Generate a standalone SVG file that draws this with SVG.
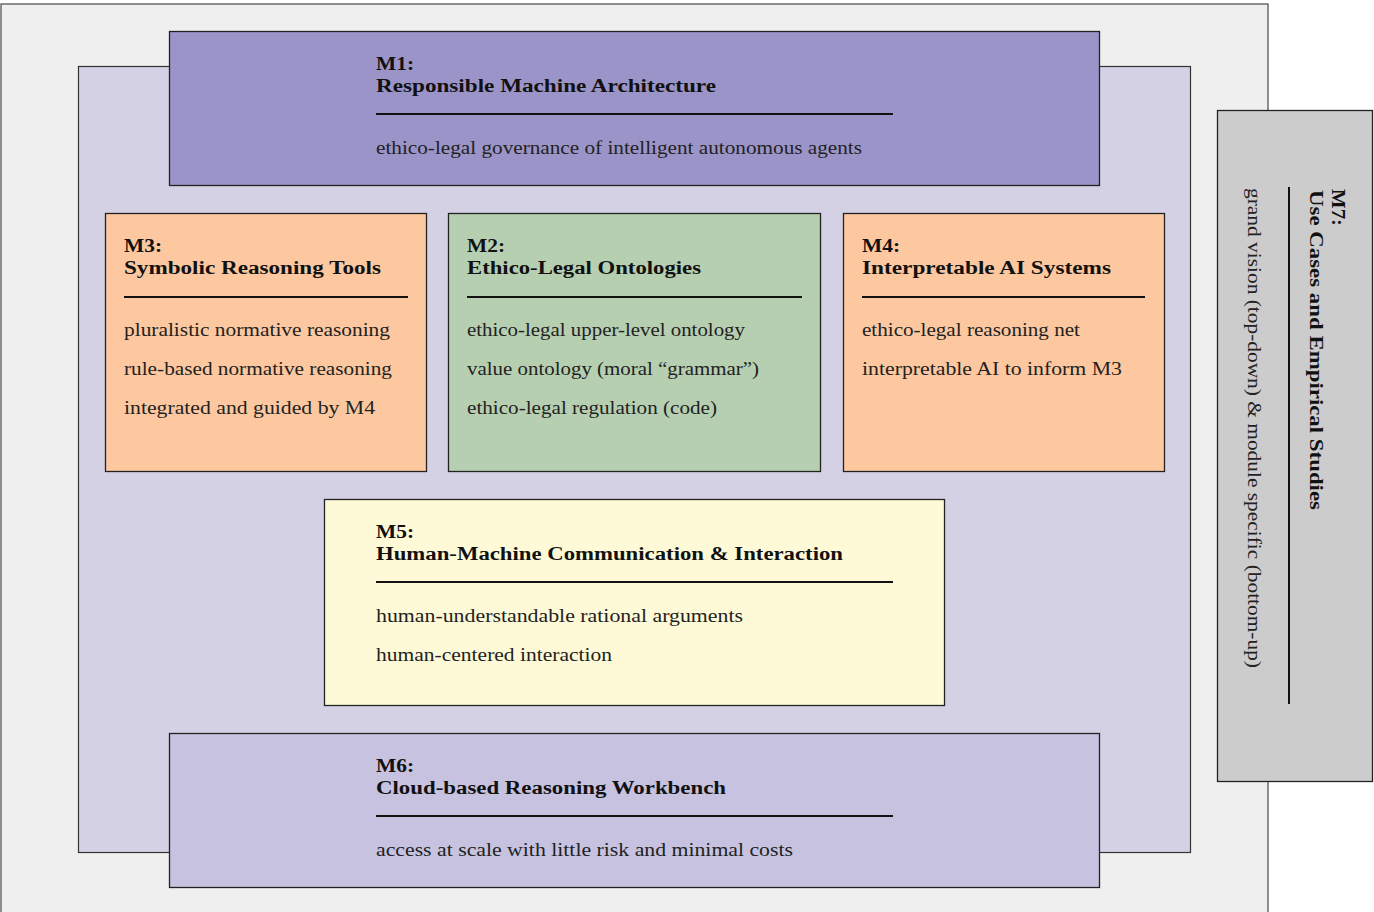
<svg xmlns="http://www.w3.org/2000/svg" width="1374" height="912" viewBox="0 0 1374 912">
<style>
.box{stroke:#222;stroke-width:1.3}
.t{font-family:"Liberation Serif","DejaVu Serif",serif;font-size:18px;fill:#222}
.h{font-weight:bold;fill:#111}
.rule{stroke:#111;stroke-width:2}
</style>
<rect width="1374" height="912" fill="#fff"/>
<g id="outer"><rect x="1" y="4" width="1267" height="920" fill="#efefef" stroke="#555" stroke-width="1.3"/></g>
<g id="inner"><rect x="78.5" y="66.5" width="1112" height="786" fill="#d4d1e4" stroke="#333" stroke-width="1.2"/></g>
<g id="M1">
<rect class="box" x="169.5" y="31.5" width="930" height="154" fill="#9b94c8"/>
<text class="t h" x="376" y="70" textLength="38" lengthAdjust="spacingAndGlyphs">M1:</text>
<text class="t h" x="376" y="92" textLength="340" lengthAdjust="spacingAndGlyphs">Responsible Machine Architecture</text>
<line class="rule" x1="376" y1="114" x2="893" y2="114"/>
<text class="t" x="376" y="154" textLength="486" lengthAdjust="spacingAndGlyphs">ethico-legal governance of intelligent autonomous agents</text>
</g>
<g id="M3">
<rect class="box" x="105.5" y="213.5" width="321" height="258" fill="#fdc8a0"/>
<text class="t h" x="124" y="252" textLength="38" lengthAdjust="spacingAndGlyphs">M3:</text>
<text class="t h" x="124" y="274" textLength="257" lengthAdjust="spacingAndGlyphs">Symbolic Reasoning Tools</text>
<line class="rule" x1="124" y1="297" x2="408" y2="297"/>
<text class="t" x="124" y="336" textLength="266" lengthAdjust="spacingAndGlyphs">pluralistic normative reasoning</text>
<text class="t" x="124" y="375" textLength="268" lengthAdjust="spacingAndGlyphs">rule-based normative reasoning</text>
<text class="t" x="124" y="414" textLength="251" lengthAdjust="spacingAndGlyphs">integrated and guided by M4</text>
</g>
<g id="M2">
<rect class="box" x="448.5" y="213.5" width="372" height="258" fill="#b7cfb1"/>
<text class="t h" x="467" y="252" textLength="38" lengthAdjust="spacingAndGlyphs">M2:</text>
<text class="t h" x="467" y="274" textLength="234" lengthAdjust="spacingAndGlyphs">Ethico-Legal Ontologies</text>
<line class="rule" x1="467" y1="297" x2="802" y2="297"/>
<text class="t" x="467" y="336" textLength="278" lengthAdjust="spacingAndGlyphs">ethico-legal upper-level ontology</text>
<text class="t" x="467" y="375" textLength="292" lengthAdjust="spacingAndGlyphs">value ontology (moral “grammar”)</text>
<text class="t" x="467" y="414" textLength="250" lengthAdjust="spacingAndGlyphs">ethico-legal regulation (code)</text>
</g>
<g id="M4">
<rect class="box" x="843.5" y="213.5" width="321" height="258" fill="#fdc8a0"/>
<text class="t h" x="862" y="252" textLength="38" lengthAdjust="spacingAndGlyphs">M4:</text>
<text class="t h" x="862" y="274" textLength="249" lengthAdjust="spacingAndGlyphs">Interpretable AI Systems</text>
<line class="rule" x1="862" y1="297" x2="1145" y2="297"/>
<text class="t" x="862" y="336" textLength="218" lengthAdjust="spacingAndGlyphs">ethico-legal reasoning net</text>
<text class="t" x="862" y="375" textLength="260" lengthAdjust="spacingAndGlyphs">interpretable AI to inform M3</text>
</g>
<g id="M5">
<rect class="box" x="324.5" y="499.5" width="620" height="206" fill="#fefad8"/>
<text class="t h" x="376" y="538" textLength="38" lengthAdjust="spacingAndGlyphs">M5:</text>
<text class="t h" x="376" y="560" textLength="467" lengthAdjust="spacingAndGlyphs">Human-Machine Communication &amp; Interaction</text>
<line class="rule" x1="376" y1="582" x2="893" y2="582"/>
<text class="t" x="376" y="622" textLength="367" lengthAdjust="spacingAndGlyphs">human-understandable rational arguments</text>
<text class="t" x="376" y="661" textLength="236" lengthAdjust="spacingAndGlyphs">human-centered interaction</text>
</g>
<g id="M6">
<rect class="box" x="169.5" y="733.5" width="930" height="154" fill="#c6c2e0"/>
<text class="t h" x="376" y="772" textLength="38" lengthAdjust="spacingAndGlyphs">M6:</text>
<text class="t h" x="376" y="794" textLength="350" lengthAdjust="spacingAndGlyphs">Cloud-based Reasoning Workbench</text>
<line class="rule" x1="376" y1="816" x2="893" y2="816"/>
<text class="t" x="376" y="856" textLength="417" lengthAdjust="spacingAndGlyphs">access at scale with little risk and minimal costs</text>
</g>
<g id="M7">
<rect class="box" x="1217.5" y="110.5" width="155" height="671" fill="#cccccc"/>
<text class="t h" transform="translate(1332,189) rotate(90)" textLength="37" lengthAdjust="spacingAndGlyphs">M7:</text>
<text class="t h" transform="translate(1310,190) rotate(90)" textLength="320" lengthAdjust="spacingAndGlyphs">Use Cases and Empirical Studies</text>
<line class="rule" x1="1289" y1="187" x2="1289" y2="704"/>
<text class="t" transform="translate(1248,188) rotate(90)" textLength="480" lengthAdjust="spacingAndGlyphs">grand vision (top-down) &amp; module specific (bottom-up)</text>
</g>
<g id="connectors"/>
</svg>
